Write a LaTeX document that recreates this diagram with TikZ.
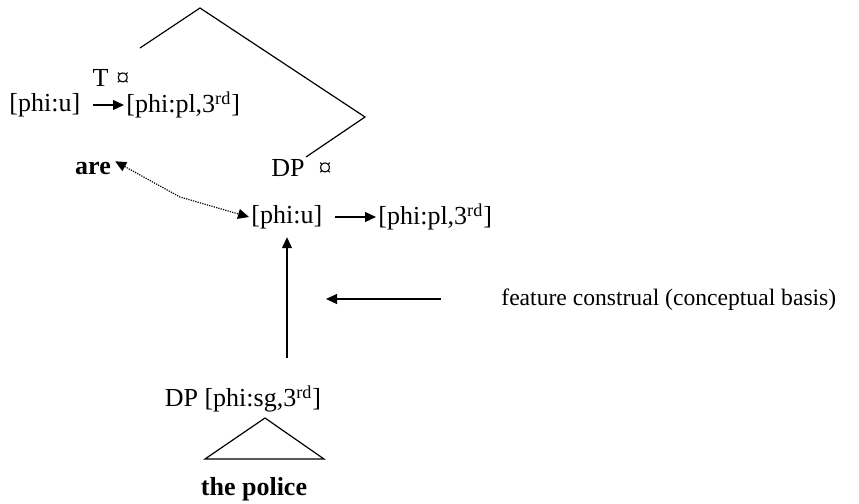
\documentclass[tikz,border=0pt]{standalone}
\usepackage{fontspec}
\setmainfont{Liberation Serif}
\usetikzlibrary{arrows.meta}

\begin{document}
\begin{tikzpicture}[x=0.5pt,y=-0.5pt, font=\fontsize{13}{15}\selectfont,
  >={Triangle[length=5.5pt,width=5pt]},
  lbl/.style={inner sep=1pt},
  bf/.style={lbl,font=\fontsize{13}{15}\selectfont\bfseries},
  edge/.style={line width=0.6pt},
  ar/.style={line width=0.6pt,->},
]
\useasboundingbox (0,0) rectangle (859,504);

% Tree branches
\coordinate (top) at (200,8);
\coordinate (tleft) at (140,48);
\coordinate (bend) at (365,117);
\coordinate (dpend) at (306,157);
\draw[edge] (tleft) -- (top) -- (bend) -- (dpend);

% T head
\node[lbl] (tlabel) at (111,78) {T\hspace{4pt}¤};
\node[lbl,anchor=west] (tu) at (7,105) {[phi:u]};
\node[lbl,anchor=west] (tpl) at (124,105) {[phi:pl,3\textsuperscript{rd}]};
\draw[ar] ([xshift=5pt]tu.east) -- (tpl.west);
\node[bf] (are) at (93,168) {are};

% DP in specifier
\node[lbl,anchor=west] (dplabel) at (269,168) {DP\hspace{7pt}¤};
\node[lbl,anchor=west] (du) at (249,217) {[phi:u]};
\node[lbl,anchor=west] (dpl) at (376,217) {[phi:pl,3\textsuperscript{rd}]};
\draw[ar] ([xshift=5pt]du.east) -- (dpl.west);

% Agree relation
\coordinate (mid) at (180,197);
\draw[line width=0.6pt,dash pattern=on 0.6pt off 0.6pt,<->]
  ([xshift=1pt,yshift=-1pt]are.north east) -- (mid) -- (du.west);

% Feature construal
\node[lbl,anchor=west,font=\fontsize{11.8}{14}\selectfont] (construal) at (499,300)
  {feature construal (conceptual basis)};
\coordinate (cstart) at (441,299);
\coordinate (cend) at (326,299);
\draw[ar] (cstart) -- (cend);

% Lower DP
\node[lbl] (dpsg) at (243,399) {DP [phi:sg,3\textsuperscript{rd}]};
\coordinate (vbot) at (287,358);
\draw[ar] (vbot) -- ([yshift=-3pt]du.south -| vbot);
\coordinate (apex) at (265,418);
\coordinate (bl) at (205,459);
\coordinate (br) at (324,459);
\draw[edge] (bl) -- (apex) -- (br) -- cycle;
\node[bf] (police) at (254,489) {the police};

\end{tikzpicture}
\end{document}
